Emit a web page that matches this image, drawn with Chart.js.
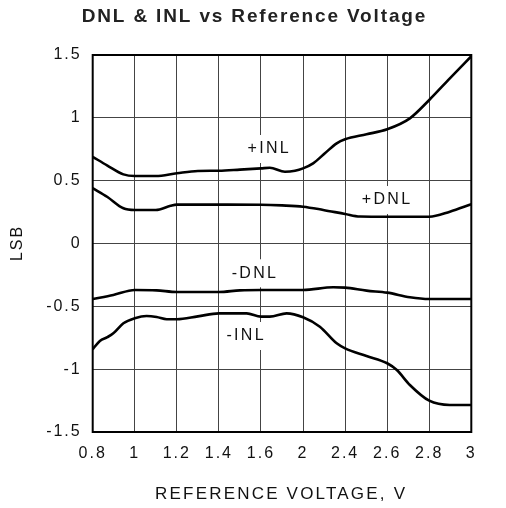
<!DOCTYPE html>
<html><head><meta charset="utf-8">
<script src="https://cdn.jsdelivr.net/npm/chart.js@4/dist/chart.umd.min.js"></script>
<style>html,body{margin:0;padding:0;background:#fff;}canvas{display:block;}</style>
</head><body>
<canvas id="c" width="506" height="508"></canvas>
<script>
const chartTitle = 'DNL & INL vs Reference Voltage';
const xTitle = 'REFERENCE VOLTAGE, V';
const yTitle = 'LSB';
const xTickLabels = ['0.8','1','1.2','1.4','1.6','2','2.4','2.6','2.8','3'];
const yTickLabels = ['-1.5','-1','-0.5','0','0.5','1','1.5'];

// positions along the (evenly spaced) category grid, and LSB values
const plusINL_x = [0, 0.35, 0.73, 1, 1.5, 2, 2.5, 3, 3.5, 4, 4.21, 4.57, 4.81, 5, 5.24, 5.52, 5.8, 6, 6.51, 7, 7.54, 8, 8.49, 9];
const plusINL_y = [0.69, 0.62, 0.55, 0.537, 0.537, 0.559, 0.577, 0.579, 0.588, 0.598, 0.603, 0.571, 0.579, 0.598, 0.638, 0.718, 0.797, 0.829, 0.869, 0.909, 0.996, 1.142, 1.314, 1.49];

const plusDNL_x = [0, 0.35, 0.73, 1, 1.5, 1.85, 2, 3, 4, 4.5, 5, 5.48, 6, 6.35, 7, 8, 8.49, 9];
const plusDNL_y = [0.44, 0.37, 0.28, 0.267, 0.267, 0.30, 0.309, 0.309, 0.308, 0.303, 0.293, 0.267, 0.235, 0.215, 0.213, 0.213, 0.253, 0.312];

const minusDNL_x = [0, 0.49, 1, 1.52, 2, 3, 3.5, 4, 5, 5.72, 6, 6.51, 7, 7.54, 8, 9];
const minusDNL_y = [-0.442, -0.41, -0.37, -0.373, -0.386, -0.386, -0.373, -0.37, -0.37, -0.348, -0.351, -0.375, -0.391, -0.428, -0.442, -0.442];

const minusINL_x = [0, 0.17, 0.35, 0.49, 0.73, 1, 1.28, 1.52, 1.76, 2, 2.5, 3, 3.66, 4, 4.21, 4.61, 5, 5.4, 5.8, 6, 6.51, 7, 7.23, 7.54, 8, 8.49, 9];
const minusINL_y = [-0.842, -0.775, -0.745, -0.715, -0.635, -0.595, -0.577, -0.585, -0.603, -0.603, -0.58, -0.556, -0.556, -0.582, -0.582, -0.556, -0.587, -0.662, -0.794, -0.834, -0.895, -0.953, -1.007, -1.126, -1.251, -1.285, -1.285];

const curveLabels = ['+INL', '+DNL', '-DNL', '-INL'];
const curveLabelX = [4.17, 6.97, 3.83, 3.62];
const curveLabelY = [0.752, 0.346, -0.237, -0.736];

const FONT = "'Liberation Sans', Arial, Helvetica, sans-serif";
const TXT = '#111';
const TICK_SP = 2;

function pts(xs, ys) { return xs.map((x, i) => ({x: x, y: ys[i]})); }

function spacedText(ctx, text, x, y, sp) {
  ctx.letterSpacing = sp + 'px';
  ctx.fillText(text, x + sp / 2, y);
}

const deco = {
  id: 'deco',
  beforeUpdate(chart) { chart.ctx.letterSpacing = TICK_SP + 'px'; },
  beforeDraw(chart) {
    const ctx = chart.ctx;
    ctx.letterSpacing = TICK_SP + 'px';
    ctx.save();
    ctx.fillStyle = '#fff';
    ctx.fillRect(0, 0, chart.width, chart.height);
    ctx.restore();
  },
  beforeDatasetsDraw(chart) {
    const ctx = chart.ctx, xs = chart.scales.x, ys = chart.scales.y;
    ctx.save();
    ctx.font = '16px ' + FONT;
    ctx.letterSpacing = '2.3px';
    ctx.textAlign = 'center';
    ctx.textBaseline = 'middle';
    curveLabels.forEach((t, i) => {
      const px = xs.getPixelForValue(curveLabelX[i]);
      const py = ys.getPixelForValue(curveLabelY[i]);
      const w = ctx.measureText(t).width + 6;
      ctx.fillStyle = '#fff';
      ctx.fillRect(px - w / 2, py - 14, w, 28);
      ctx.fillStyle = TXT;
      ctx.fillText(t, px + 1.15, py);
    });
    ctx.restore();
  },
  afterDraw(chart) {
    const ctx = chart.ctx, a = chart.chartArea;
    ctx.save();
    ctx.strokeStyle = '#000';
    ctx.lineWidth = 2;
    ctx.strokeRect(a.left, a.top, a.right - a.left, a.bottom - a.top);
    ctx.textAlign = 'center';
    ctx.textBaseline = 'middle';
    ctx.font = 'bold 19px ' + FONT;
    ctx.fillStyle = '#222';
    spacedText(ctx, chartTitle, 253.5, 17, 1.85);
    ctx.font = '17px ' + FONT;
    ctx.fillStyle = TXT;
    spacedText(ctx, xTitle, 280, 494, 2.2);
    ctx.save();
    ctx.translate(18, 244);
    ctx.rotate(-Math.PI / 2);
    ctx.font = '16px ' + FONT;
    spacedText(ctx, yTitle, 0, 0, 2);
    ctx.restore();
    ctx.restore();
  }
};

const lineStyle = {borderColor: '#000', borderWidth: 2.6, pointRadius: 0, fill: false, cubicInterpolationMode: 'monotone'};

new Chart(document.getElementById('c'), {
  type: 'line',
  data: {
    datasets: [
      Object.assign({label: '+INL', data: pts(plusINL_x, plusINL_y)}, lineStyle),
      Object.assign({label: '+DNL', data: pts(plusDNL_x, plusDNL_y)}, lineStyle),
      Object.assign({label: '-DNL', data: pts(minusDNL_x, minusDNL_y)}, lineStyle),
      Object.assign({label: '-INL', data: pts(minusINL_x, minusINL_y)}, lineStyle)
    ]
  },
  plugins: [deco],
  options: {
    responsive: false,
    animation: false,
    devicePixelRatio: 1,
    layout: {padding: {top: 55, right: 34.7, left: 0, bottom: 0}},
    plugins: {legend: {display: false}, tooltip: {enabled: false}, title: {display: false}},
    scales: {
      x: {
        type: 'linear', min: 0, max: 9,
        ticks: {stepSize: 1, autoSkip: false, maxRotation: 0, padding: 12, color: TXT,
                font: {family: FONT, size: 16},
                callback: (v) => xTickLabels[Math.round(v)]},
        grid: {color: '#444', lineWidth: 1, drawTicks: false},
        border: {display: false},
        afterFit(s) { s.height = 76; }
      },
      y: {
        type: 'linear', min: -1.5, max: 1.5,
        ticks: {stepSize: 0.5, padding: 11, color: TXT, font: {family: FONT, size: 16},
                callback: (v, i) => yTickLabels[i]},
        grid: {color: '#444', lineWidth: 1, drawTicks: false},
        border: {display: false},
        afterFit(s) { s.width = 92.7; }
      }
    }
  }
});
</script>
</body></html>
